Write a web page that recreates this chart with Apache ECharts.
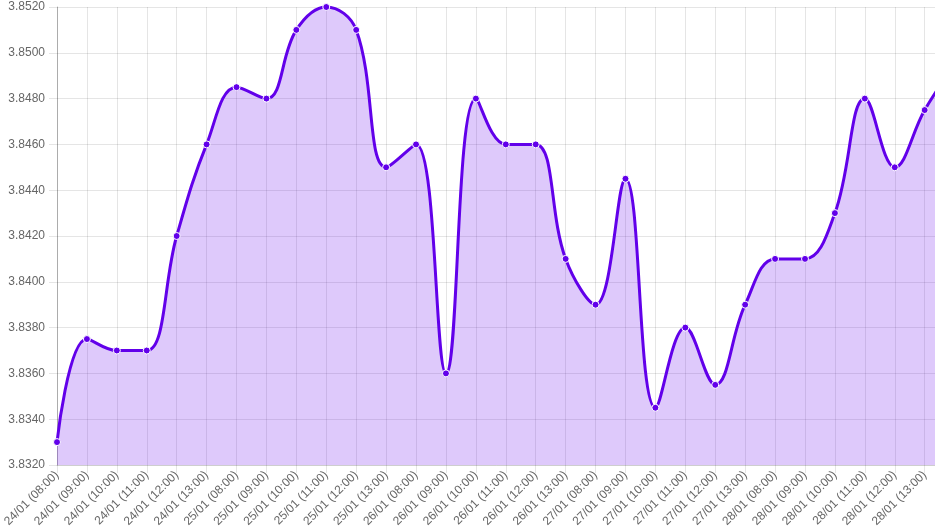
<!DOCTYPE html>
<html>
<head>
<meta charset="utf-8">
<script src="https://cdn.jsdelivr.net/npm/echarts@6/dist/echarts.min.js"></script>
<style>
  html, body { margin: 0; padding: 0; background: #fff; }
  #chart { width: 935px; height: 527px; }
</style>
</head>
<body>
<div id="chart"></div>
<script>
"use strict";
// categories (the last one sits just past the right edge)
var labels = [
  "24/01 (08:00)", "24/01 (09:00)", "24/01 (10:00)", "24/01 (11:00)", "24/01 (12:00)", "24/01 (13:00)",
  "25/01 (08:00)", "25/01 (09:00)", "25/01 (10:00)", "25/01 (11:00)", "25/01 (12:00)", "25/01 (13:00)",
  "26/01 (08:00)", "26/01 (09:00)", "26/01 (10:00)", "26/01 (11:00)", "26/01 (12:00)", "26/01 (13:00)",
  "27/01 (08:00)", "27/01 (09:00)", "27/01 (10:00)", "27/01 (11:00)", "27/01 (12:00)", "27/01 (13:00)",
  "28/01 (08:00)", "28/01 (09:00)", "28/01 (10:00)", "28/01 (11:00)", "28/01 (12:00)", "28/01 (13:00)",
  "29/01 (08:00)"
];
var rates = [
  3.8330, 3.8375, 3.8370, 3.8370, 3.8420, 3.8460,
  3.8485, 3.8480, 3.8510, 3.8520, 3.8510, 3.8450,
  3.8460, 3.8360, 3.8480, 3.8460, 3.8460, 3.8410,
  3.8390, 3.8445, 3.8345, 3.8380, 3.8355, 3.8390,
  3.8410, 3.8410, 3.8430, 3.8480, 3.8450, 3.8475,
  3.8495
];
var yMin = 3.832, yMax = 3.852, yStep = 0.002;

var chart = echarts.init(document.getElementById("chart"));
chart.setOption({
  animation: false,
  textStyle: { fontFamily: "Liberation Sans, Arial, sans-serif" },
  grid: { left: 57, top: 7, width: 897.6, height: 458, containLabel: false, outerBoundsMode: "none" },
  xAxis: {
    type: "category",
    data: labels,
    boundaryGap: false,
    axisLine: { lineStyle: { color: "rgba(0,0,0,0.1)" } },
    axisTick: { show: true, interval: 0, length: 8, lineStyle: { color: "rgba(0,0,0,0.1)" } },
    axisLabel: {
      interval: 0, rotate: 45, margin: 8, color: "#666", fontSize: 12,
      // the off-screen category has no visible label
      formatter: function (v, i) { return i === labels.length - 1 ? "" : v; }
    },
    splitLine: { show: true, interval: 0, lineStyle: { color: "rgba(0,0,0,0.1)" } }
  },
  yAxis: {
    type: "value",
    min: yMin,
    max: yMax,
    interval: yStep,
    axisLine: { show: true, lineStyle: { color: "rgba(0,0,0,0.25)" } },
    axisTick: { show: true, length: 8, lineStyle: { color: "rgba(0,0,0,0.1)" } },
    axisLabel: {
      color: "#666", fontSize: 12, margin: 12,
      formatter: function (v) { return v.toFixed(4); }
    },
    splitLine: { lineStyle: { color: "rgba(0,0,0,0.1)" } }
  },
  series: [{
    type: "line",
    data: rates,
    smooth: 0.4,
    symbol: "circle",
    symbolSize: 7,
    lineStyle: { color: "#6200EA", width: 3 },
    itemStyle: { color: "#6200EA", borderColor: "#fff", borderWidth: 1 },
    areaStyle: { color: "rgba(98,0,234,0.21)", opacity: 1 }
  }]
});
</script>
</body>
</html>
